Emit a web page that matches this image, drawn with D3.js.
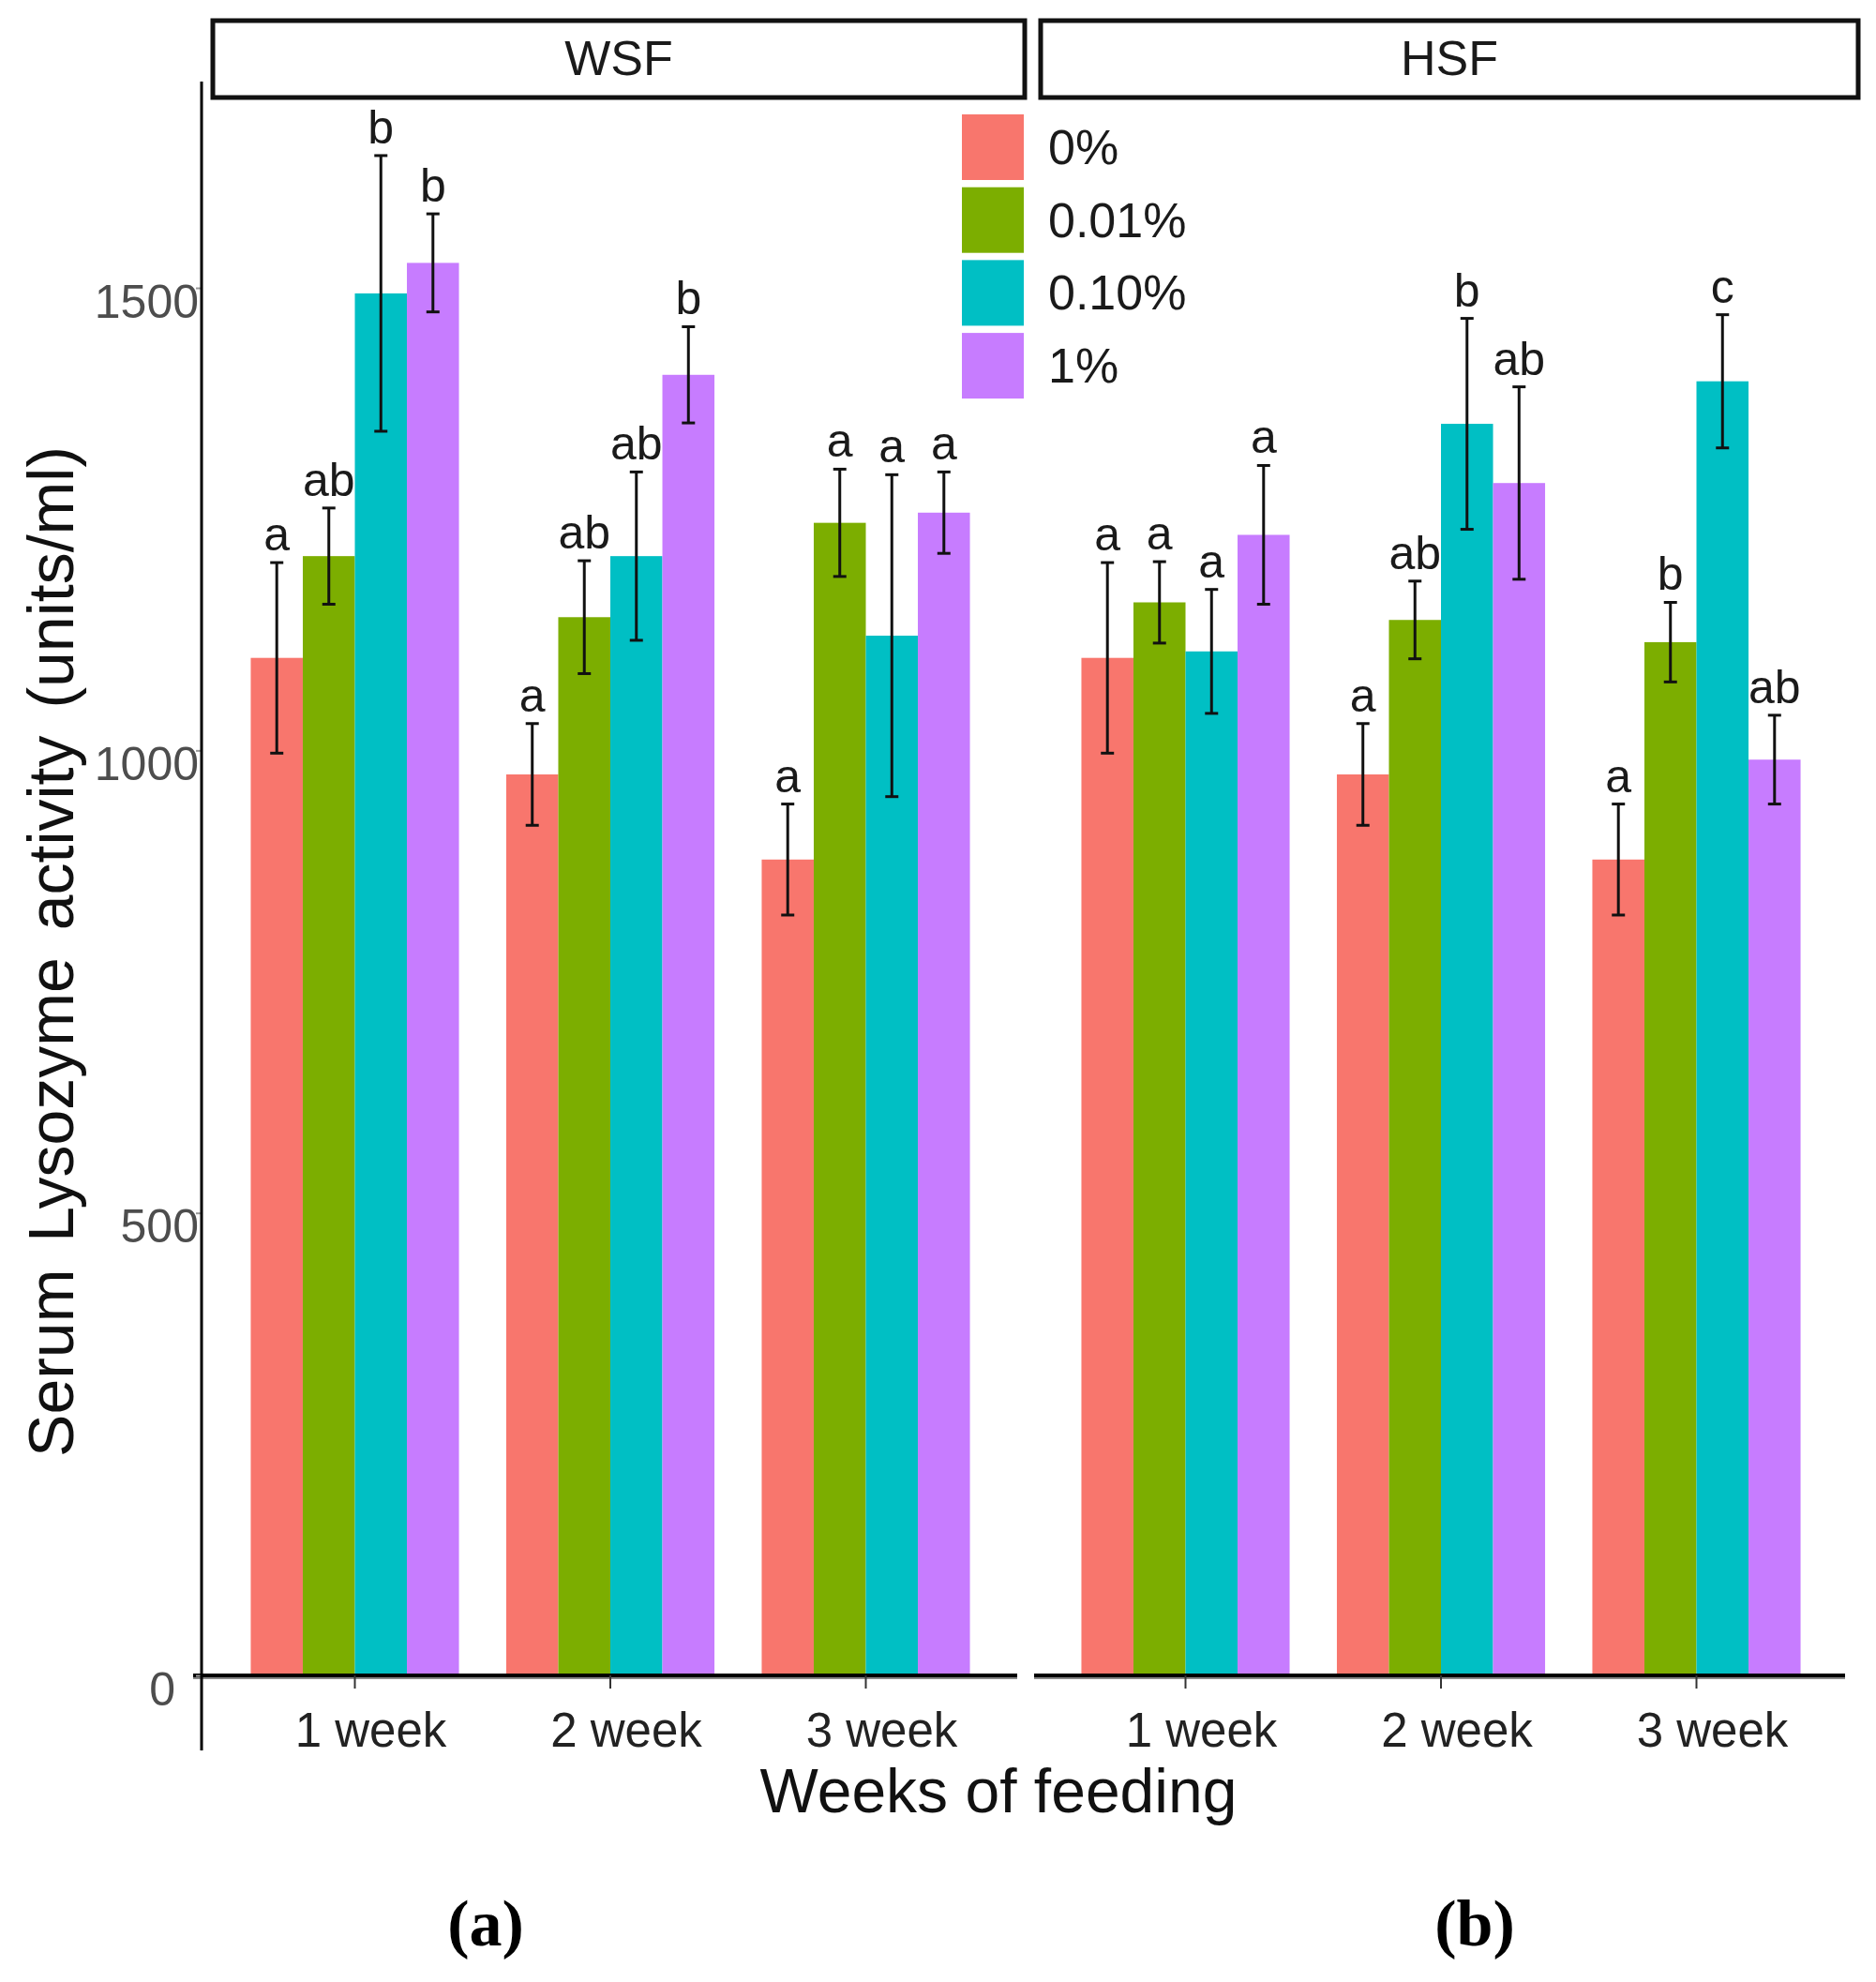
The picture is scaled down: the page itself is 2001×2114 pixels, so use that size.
<!DOCTYPE html>
<html>
<head>
<meta charset="utf-8">
<script src="https://cdn.jsdelivr.net/npm/d3@7"></script>
<style>
  body { margin: 0; background: #fff; }
</style>
</head>
<body>
<script>
// ---- data ----
var weeks = ["1 week", "2 week", "3 week"];
var doses = ["0%", "0.01%", "0.10%", "1%"];
var doseColors = ["#F8766D", "#7CAE00", "#00BFC4", "#C77CFF"];
var panelNames = ["WSF", "HSF"];
var panelTags = ["(a)", "(b)"];
var yTicks = [0, 500, 1000, 1500];

// mean per week (rows) and dose (columns)
var wsfMean = [[1100, 1210, 1494, 1527], [974, 1144, 1210, 1406], [882, 1246, 1124, 1257]];
var wsfErr = [[103, 52, 149, 53], [55, 61, 91, 52], [60, 58, 174, 44]];
var wsfLetters = [["a", "ab", "b", "b"], ["a", "ab", "ab", "b"], ["a", "a", "a", "a"]];

var hsfMean = [[1100, 1160, 1107, 1233], [974, 1141, 1353, 1289], [882, 1117, 1399, 990]];
var hsfErr = [[103, 44, 67, 75], [55, 42, 114, 104], [60, 43, 72, 48]];
var hsfLetters = [["a", "a", "a", "a"], ["a", "ab", "b", "ab"], ["a", "b", "c", "ab"]];

// ---- layout ----
var width = 2001, height = 2114;
var baseY = 1787, topY = 88;
var panelLeft = [215, 1101];
var panelWidth = 872;
var stripLeft = [227, 1110];
var stripWidth = [866, 872];
var sans = "'Liberation Sans', Arial, sans-serif";
var serif = "'Liberation Serif', 'Times New Roman', serif";

var svg = d3.select("body").append("svg")
  .attr("width", width)
  .attr("height", height)
  .style("font-family", sans);

var y = d3.scaleLinear().domain([0, 1722]).range([baseY, topY]);

var allMeans = [wsfMean, hsfMean];
var allErrs = [wsfErr, hsfErr];
var allLetters = [wsfLetters, hsfLetters];

// build flat rows for each panel
function panelRows(p) {
  var rows = [];
  weeks.forEach(function(w, i) {
    doses.forEach(function(d, j) {
      rows.push({week: w, dose: d, mean: allMeans[p][i][j], err: allErrs[p][i][j],
                 letter: allLetters[p][i][j], color: doseColors[j]});
    });
  });
  return rows;
}

panelNames.forEach(function(name, p) {
  var x0 = d3.scaleBand()
    .domain(weeks)
    .range([panelLeft[p], panelLeft[p] + panelWidth])
    .paddingInner(0.185)
    .paddingOuter(0.1925);
  var x1 = d3.scaleBand().domain(doses).range([0, x0.bandwidth()]);
  var rows = panelRows(p);
  var g = svg.append("g");

  // bars
  g.selectAll("rect.bar").data(rows).enter().append("rect")
    .attr("class", "bar")
    .attr("x", function(d) { return x0(d.week) + x1(d.dose); })
    .attr("y", function(d) { return y(d.mean); })
    .attr("width", x1.bandwidth())
    .attr("height", function(d) { return y(0) - y(d.mean); })
    .attr("fill", function(d) { return d.color; });

  // error bars
  var cx = function(d) { return x0(d.week) + x1(d.dose) + x1.bandwidth() / 2; };
  g.selectAll("line.err").data(rows).enter().append("line")
    .attr("x1", cx).attr("x2", cx)
    .attr("y1", function(d) { return y(d.mean - d.err); })
    .attr("y2", function(d) { return y(d.mean + d.err); })
    .attr("stroke", "#111").attr("stroke-width", 3);
  [1, -1].forEach(function(s) {
    g.selectAll(null).data(rows).enter().append("line")
      .attr("x1", function(d) { return cx(d) - 7; })
      .attr("x2", function(d) { return cx(d) + 7; })
      .attr("y1", function(d) { return y(d.mean + s * d.err); })
      .attr("y2", function(d) { return y(d.mean + s * d.err); })
      .attr("stroke", "#111").attr("stroke-width", 3);
  });

  // significance letters
  g.selectAll("text.letter").data(rows).enter().append("text")
    .attr("x", cx)
    .attr("y", function(d) { return y(d.mean + d.err) - 13; })
    .attr("text-anchor", "middle")
    .attr("font-size", "50px")
    .attr("fill", "#1a1a1a")
    .text(function(d) { return d.letter; });

  // baseline (x axis line)
  svg.append("line")
    .attr("x1", p === 0 ? 206 : panelLeft[p] + 2)
    .attr("x2", panelLeft[p] + panelWidth - (p === 0 ? 2 : 5))
    .attr("y1", baseY + 1).attr("y2", baseY + 1)
    .attr("stroke", "#888").attr("stroke-width", 6);
  svg.append("line")
    .attr("x1", p === 0 ? 206 : panelLeft[p] + 2)
    .attr("x2", panelLeft[p] + panelWidth - (p === 0 ? 2 : 5))
    .attr("y1", baseY).attr("y2", baseY)
    .attr("stroke", "#000").attr("stroke-width", 4);

  // x axis ticks and labels
  var xAxis = svg.append("g")
    .attr("transform", "translate(0," + baseY + ")")
    .call(d3.axisBottom(x0).tickSize(14).tickSizeOuter(0));
  xAxis.select(".domain").remove();
  xAxis.selectAll(".tick line").attr("stroke", "#333").attr("stroke-width", 2);
  xAxis.selectAll(".tick text")
    .attr("dy", null).attr("y", 76).attr("x", 17)
    .attr("font-size", "51px")
    .attr("font-family", sans)
    .attr("fill", "#222");

  // strip
  svg.append("rect")
    .attr("x", stripLeft[p]).attr("y", 22)
    .attr("width", stripWidth[p]).attr("height", 82)
    .attr("fill", "#fff").attr("stroke", "#111").attr("stroke-width", 5);
  svg.append("text")
    .attr("x", stripLeft[p] + stripWidth[p] / 2).attr("y", 80)
    .attr("text-anchor", "middle")
    .attr("font-size", "52px").attr("fill", "#1a1a1a")
    .text(name);

  // panel tag
  svg.append("text")
    .attr("x", p === 0 ? 518 : 1573).attr("y", 2075)
    .attr("text-anchor", "middle")
    .style("font-family", serif)
    .attr("font-weight", "bold")
    .attr("font-size", "70px")
    .text(panelTags[p]);
});

// y axis
var yAxis = svg.append("g")
  .attr("transform", "translate(215,0)")
  .call(d3.axisLeft(y).tickValues(yTicks).tickFormat(d3.format("d")).tickSize(6).tickSizeOuter(0));
yAxis.select(".domain").remove();
yAxis.selectAll(".tick line").attr("stroke", "#999").attr("stroke-width", 2);
yAxis.selectAll(".tick text")
  .attr("dy", "0.32em")
  .attr("x", function(d) { return d === 0 ? -28 : -3; })
  .attr("y", 15)
  .attr("font-size", "50px")
  .attr("font-family", sans)
  .attr("fill", "#4d4d4d");
svg.append("line")
  .attr("x1", 215).attr("x2", 215)
  .attr("y1", topY - 1).attr("y2", 1867)
  .attr("stroke", "#000").attr("stroke-width", 3);

// axis titles
svg.append("text")
  .attr("transform", "translate(78,1015) rotate(-90)")
  .attr("text-anchor", "middle")
  .attr("font-size", "68px").attr("fill", "#111")
  .attr("word-spacing", "10px")
  .text("Serum Lysozyme activity (units/ml)");
svg.append("text")
  .attr("x", 1065).attr("y", 1933)
  .attr("text-anchor", "middle")
  .attr("font-size", "66px").attr("fill", "#111")
  .text("Weeks of feeding");

// legend
var legend = svg.append("g");
legend.selectAll("rect").data(doses).enter().append("rect")
  .attr("x", 1026)
  .attr("y", function(d, i) { return 122 + i * 77.7; })
  .attr("width", 66).attr("height", 70)
  .attr("fill", function(d, i) { return doseColors[i]; });
legend.selectAll("text").data(doses).enter().append("text")
  .attr("x", 1118)
  .attr("y", function(d, i) { return 175 + i * 77.7; })
  .attr("font-size", "52px").attr("fill", "#1a1a1a")
  .text(function(d) { return d; });
</script>
</body>
</html>
